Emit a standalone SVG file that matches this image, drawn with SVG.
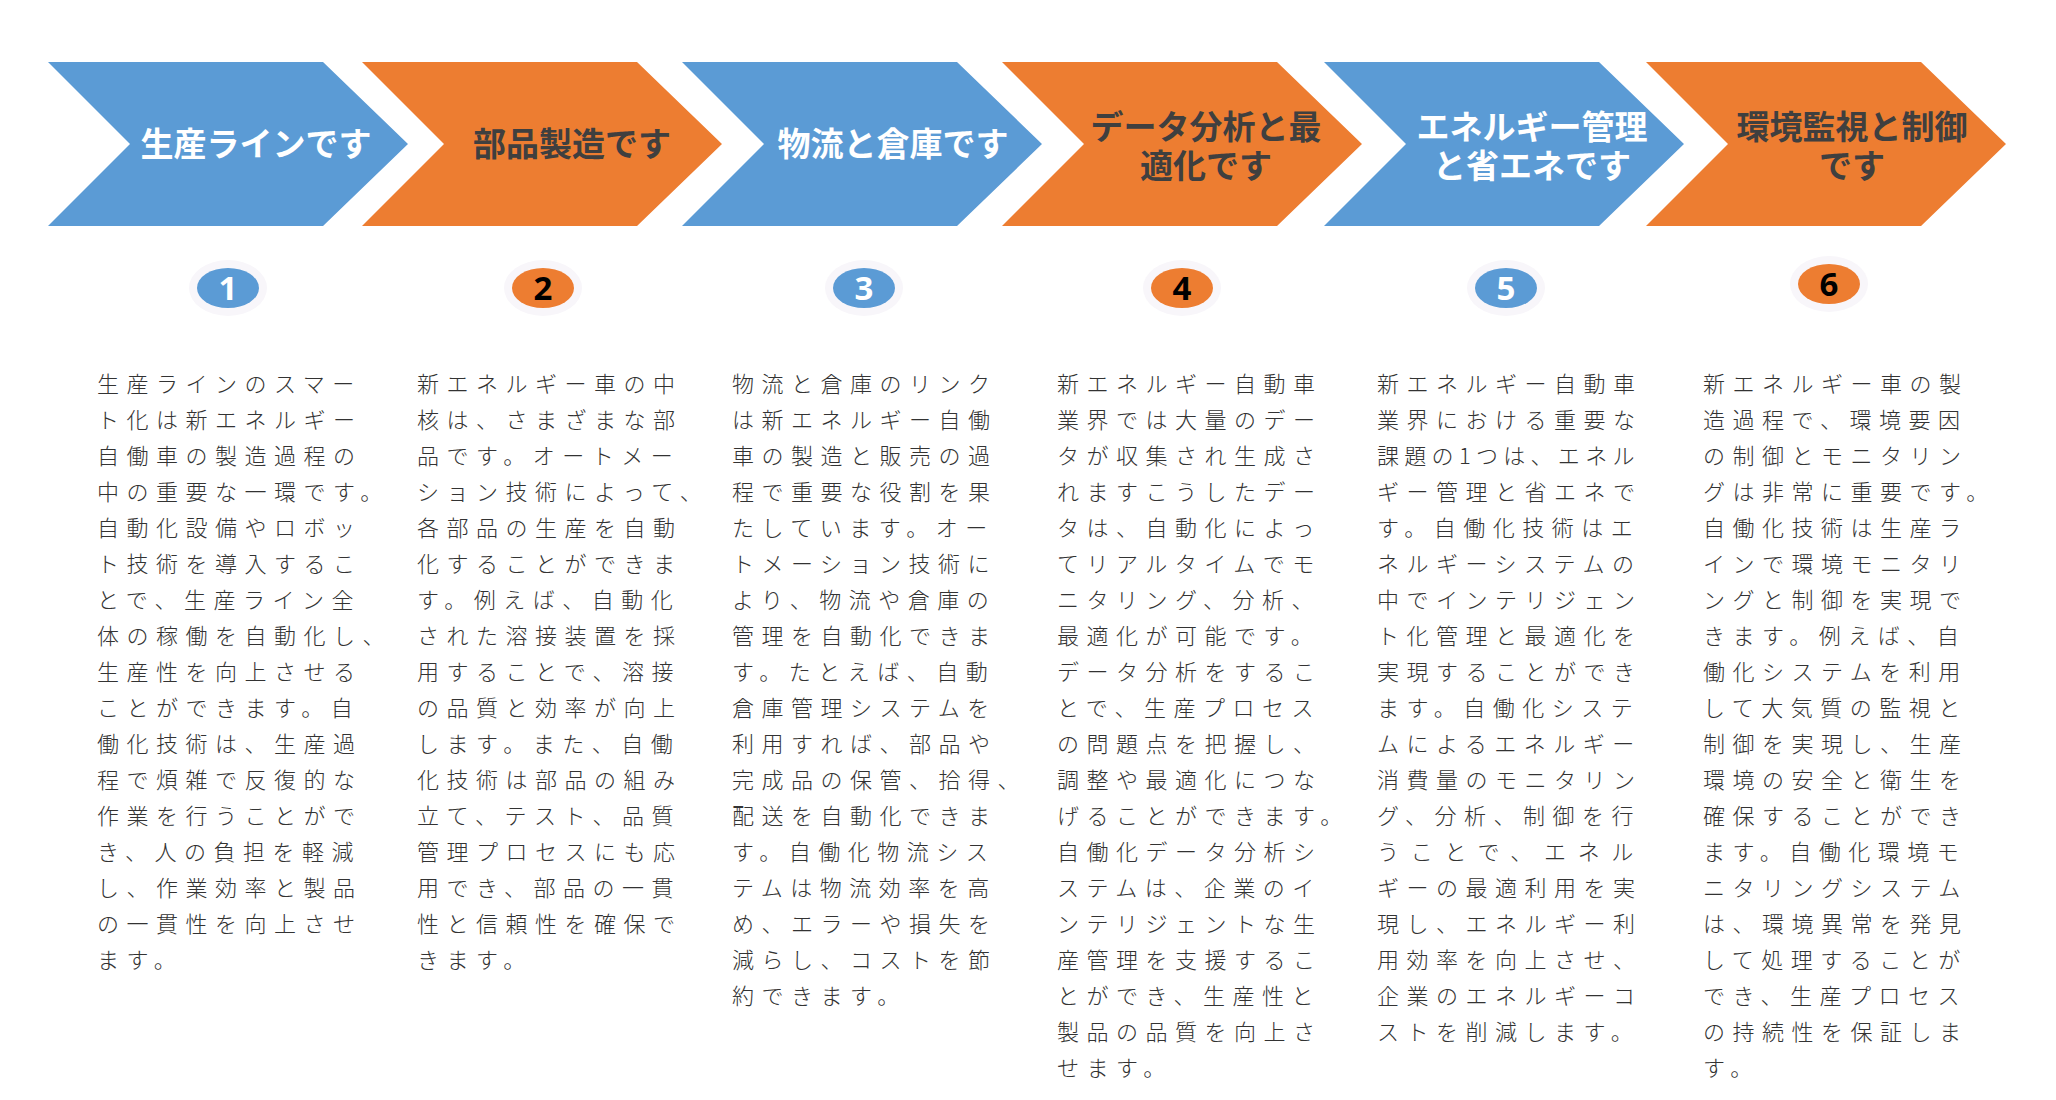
<svg xmlns="http://www.w3.org/2000/svg" width="2056" height="1100" viewBox="0 0 2056 1100">
<style>
.blue{fill:#5B9BD5}
.orange{fill:#ED7D31}
.title{font-family:"Noto Sans CJK JP","Noto Sans",sans-serif;font-weight:700;font-size:33px;text-anchor:middle}
.tw{fill:#ffffff}
.td{fill:#3f3f3f}
.halo{fill:#f8f6fa}
.num{font-family:"Noto Sans","Noto Sans CJK JP",sans-serif;font-weight:700;font-size:33px;text-anchor:middle}
.body{font-family:"Noto Sans CJK JP","Noto Sans",sans-serif;font-size:22px;letter-spacing:7.5px;fill:#333333;font-weight:300}
</style>
<rect width="2056" height="1100" fill="#ffffff"/>
<g id="connectors"></g>

<g id="step-1">
<polygon class="blue" points="48,62 323,62 408,144 323,226 48,226 130,144"/>
<text class="title tw" x="256" y="156">生産ラインです</text>
<ellipse class="halo" cx="228" cy="288" rx="39" ry="28"/>
<ellipse class="blue" cx="228" cy="288" rx="31" ry="20"/>
<text class="num tw" x="228" y="300">1</text>
<text class="body" x="97" y="392">
<tspan x="97">生産ラインのスマー</tspan>
<tspan x="97" dy="36">ト化は新エネルギー</tspan>
<tspan x="97" dy="36">自働車の製造過程の</tspan>
<tspan x="97" dy="36">中の重要な一環です。</tspan>
<tspan x="97" dy="36">自動化設備やロボッ</tspan>
<tspan x="97" dy="36">ト技術を導入するこ</tspan>
<tspan x="97" dy="36">とで、生産ライン全</tspan>
<tspan x="97" dy="36">体の稼働を自動化し、</tspan>
<tspan x="97" dy="36">生産性を向上させる</tspan>
<tspan x="97" dy="36">ことができます。自</tspan>
<tspan x="97" dy="36">働化技術は、生産過</tspan>
<tspan x="97" dy="36">程で煩雑で反復的な</tspan>
<tspan x="97" dy="36">作業を行うことがで</tspan>
<tspan x="97" dy="36">き、人の負担を軽減</tspan>
<tspan x="97" dy="36">し、作業効率と製品</tspan>
<tspan x="97" dy="36">の一貫性を向上させ</tspan>
<tspan x="97" dy="36">ます。</tspan>
</text>
</g>

<g id="step-2">
<polygon class="orange" points="362,62 637,62 722,144 637,226 362,226 444,144"/>
<text class="title td" x="572" y="156">部品製造です</text>
<ellipse class="halo" cx="543" cy="288" rx="39" ry="28"/>
<ellipse class="orange" cx="543" cy="288" rx="31" ry="20"/>
<text class="num" x="543" y="300" fill="#000000">2</text>
<text class="body" x="417" y="392">
<tspan x="417">新エネルギー車の中</tspan>
<tspan x="417" dy="36">核は、さまざまな部</tspan>
<tspan x="417" dy="36">品です。オートメー</tspan>
<tspan x="417" dy="36">ション技術によって、</tspan>
<tspan x="417" dy="36">各部品の生産を自動</tspan>
<tspan x="417" dy="36">化することができま</tspan>
<tspan x="417" dy="36">す。例えば、自動化</tspan>
<tspan x="417" dy="36">された溶接装置を採</tspan>
<tspan x="417" dy="36">用することで、溶接</tspan>
<tspan x="417" dy="36">の品質と効率が向上</tspan>
<tspan x="417" dy="36">します。また、自働</tspan>
<tspan x="417" dy="36">化技術は部品の組み</tspan>
<tspan x="417" dy="36">立て、テスト、品質</tspan>
<tspan x="417" dy="36">管理プロセスにも応</tspan>
<tspan x="417" dy="36">用でき、部品の一貫</tspan>
<tspan x="417" dy="36">性と信頼性を確保で</tspan>
<tspan x="417" dy="36">きます。</tspan>
</text>
</g>

<g id="step-3">
<polygon class="blue" points="682,62 957,62 1042,144 957,226 682,226 764,144"/>
<text class="title tw" x="893" y="156">物流と倉庫です</text>
<ellipse class="halo" cx="864" cy="288" rx="39" ry="28"/>
<ellipse class="blue" cx="864" cy="288" rx="31" ry="20"/>
<text class="num tw" x="864" y="300">3</text>
<text class="body" x="732" y="392">
<tspan x="732">物流と倉庫のリンク</tspan>
<tspan x="732" dy="36">は新エネルギー自働</tspan>
<tspan x="732" dy="36">車の製造と販売の過</tspan>
<tspan x="732" dy="36">程で重要な役割を果</tspan>
<tspan x="732" dy="36">たしています。オー</tspan>
<tspan x="732" dy="36">トメーション技術に</tspan>
<tspan x="732" dy="36">より、物流や倉庫の</tspan>
<tspan x="732" dy="36">管理を自動化できま</tspan>
<tspan x="732" dy="36">す。たとえば、自動</tspan>
<tspan x="732" dy="36">倉庫管理システムを</tspan>
<tspan x="732" dy="36">利用すれば、部品や</tspan>
<tspan x="732" dy="36">完成品の保管、拾得、</tspan>
<tspan x="732" dy="36">配送を自動化できま</tspan>
<tspan x="732" dy="36">す。自働化物流シス</tspan>
<tspan x="732" dy="36">テムは物流効率を高</tspan>
<tspan x="732" dy="36">め、エラーや損失を</tspan>
<tspan x="732" dy="36">減らし、コストを節</tspan>
<tspan x="732" dy="36">約できます。</tspan>
</text>
</g>

<g id="step-4">
<polygon class="orange" points="1002,62 1277,62 1362,144 1277,226 1002,226 1084,144"/>
<text class="title td" x="1206" y="139"><tspan x="1206">データ分析と最</tspan><tspan x="1206" dy="39">適化です</tspan></text>
<ellipse class="halo" cx="1182" cy="288" rx="39" ry="28"/>
<ellipse class="orange" cx="1182" cy="288" rx="31" ry="20"/>
<text class="num" x="1182" y="300" fill="#000000">4</text>
<text class="body" x="1057" y="392">
<tspan x="1057">新エネルギー自動車</tspan>
<tspan x="1057" dy="36">業界では大量のデー</tspan>
<tspan x="1057" dy="36">タが収集され生成さ</tspan>
<tspan x="1057" dy="36">れますこうしたデー</tspan>
<tspan x="1057" dy="36">タは、自動化によっ</tspan>
<tspan x="1057" dy="36">てリアルタイムでモ</tspan>
<tspan x="1057" dy="36">ニタリング、分析、</tspan>
<tspan x="1057" dy="36">最適化が可能です。</tspan>
<tspan x="1057" dy="36">データ分析をするこ</tspan>
<tspan x="1057" dy="36">とで、生産プロセス</tspan>
<tspan x="1057" dy="36">の問題点を把握し、</tspan>
<tspan x="1057" dy="36">調整や最適化につな</tspan>
<tspan x="1057" dy="36">げることができます。</tspan>
<tspan x="1057" dy="36">自働化データ分析シ</tspan>
<tspan x="1057" dy="36">ステムは、企業のイ</tspan>
<tspan x="1057" dy="36">ンテリジェントな生</tspan>
<tspan x="1057" dy="36">産管理を支援するこ</tspan>
<tspan x="1057" dy="36">とができ、生産性と</tspan>
<tspan x="1057" dy="36">製品の品質を向上さ</tspan>
<tspan x="1057" dy="36">せます。</tspan>
</text>
</g>

<g id="step-5">
<polygon class="blue" points="1324,62 1599,62 1684,144 1599,226 1324,226 1406,144"/>
<text class="title tw" x="1532" y="139"><tspan x="1532">エネルギー管理</tspan><tspan x="1532" dy="39">と省エネです</tspan></text>
<ellipse class="halo" cx="1506" cy="288" rx="39" ry="28"/>
<ellipse class="blue" cx="1506" cy="288" rx="31" ry="20"/>
<text class="num tw" x="1506" y="300">5</text>
<text class="body" x="1377" y="392">
<tspan x="1377">新エネルギー自動車</tspan>
<tspan x="1377" dy="36">業界における重要な</tspan>
<tspan x="1377" dy="36" style="letter-spacing:5.3px">課題の1つは、エネル</tspan>
<tspan x="1377" dy="36">ギー管理と省エネで</tspan>
<tspan x="1377" dy="36">す。自働化技術はエ</tspan>
<tspan x="1377" dy="36">ネルギーシステムの</tspan>
<tspan x="1377" dy="36">中でインテリジェン</tspan>
<tspan x="1377" dy="36">ト化管理と最適化を</tspan>
<tspan x="1377" dy="36">実現することができ</tspan>
<tspan x="1377" dy="36">ます。自働化システ</tspan>
<tspan x="1377" dy="36">ムによるエネルギー</tspan>
<tspan x="1377" dy="36">消費量のモニタリン</tspan>
<tspan x="1377" dy="36">グ、分析、制御を行</tspan>
<tspan x="1377" dy="36" style="letter-spacing:11.7px">うことで、エネル</tspan>
<tspan x="1377" dy="36">ギーの最適利用を実</tspan>
<tspan x="1377" dy="36">現し、エネルギー利</tspan>
<tspan x="1377" dy="36">用効率を向上させ、</tspan>
<tspan x="1377" dy="36">企業のエネルギーコ</tspan>
<tspan x="1377" dy="36">ストを削減します。</tspan>
</text>
</g>

<g id="step-6">
<polygon class="orange" points="1646,62 1921,62 2006,144 1921,226 1646,226 1728,144"/>
<text class="title td" x="1852" y="139"><tspan x="1852">環境監視と制御</tspan><tspan x="1852" dy="39">です</tspan></text>
<ellipse class="halo" cx="1829" cy="284" rx="39" ry="28"/>
<ellipse class="orange" cx="1829" cy="284" rx="31" ry="20"/>
<text class="num" x="1829" y="296" fill="#000000">6</text>
<text class="body" x="1703" y="392">
<tspan x="1703">新エネルギー車の製</tspan>
<tspan x="1703" dy="36">造過程で、環境要因</tspan>
<tspan x="1703" dy="36">の制御とモニタリン</tspan>
<tspan x="1703" dy="36">グは非常に重要です。</tspan>
<tspan x="1703" dy="36">自働化技術は生産ラ</tspan>
<tspan x="1703" dy="36">インで環境モニタリ</tspan>
<tspan x="1703" dy="36">ングと制御を実現で</tspan>
<tspan x="1703" dy="36">きます。例えば、自</tspan>
<tspan x="1703" dy="36">働化システムを利用</tspan>
<tspan x="1703" dy="36">して大気質の監視と</tspan>
<tspan x="1703" dy="36">制御を実現し、生産</tspan>
<tspan x="1703" dy="36">環境の安全と衛生を</tspan>
<tspan x="1703" dy="36">確保することができ</tspan>
<tspan x="1703" dy="36">ます。自働化環境モ</tspan>
<tspan x="1703" dy="36">ニタリングシステム</tspan>
<tspan x="1703" dy="36">は、環境異常を発見</tspan>
<tspan x="1703" dy="36">して処理することが</tspan>
<tspan x="1703" dy="36">でき、生産プロセス</tspan>
<tspan x="1703" dy="36">の持続性を保証しま</tspan>
<tspan x="1703" dy="36">す。</tspan>
</text>
</g>
</svg>
